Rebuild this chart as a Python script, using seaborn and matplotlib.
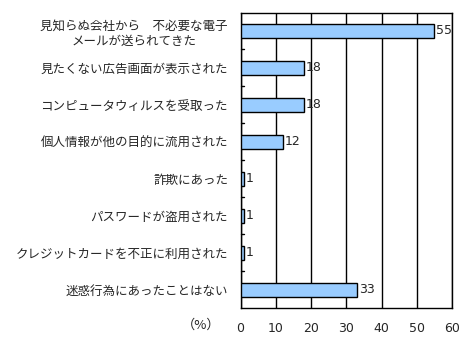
import matplotlib
matplotlib.use("Agg")
import matplotlib.pyplot as plt
import seaborn as sns
import pandas as pd

categories = [
    "見知らぬ会社から　不必要な電子\nメールが送られてきた",
    "見たくない広告画面が表示された",
    "コンピュータウィルスを受取った",
    "個人情報が他の目的に流用された",
    "詐欺にあった",
    "パスワードが盗用された",
    "クレジットカードを不正に利用された",
    "迷惑行為にあったことはない",
]
values = [55, 18, 18, 12, 1, 1, 1, 33]
x_ticks = [0, 10, 20, 30, 40, 50, 60]

sns.set_theme(style="white")
plt.rcParams["font.family"] = ["Noto Sans CJK JP", "DejaVu Sans"]

df = pd.DataFrame({"item": categories, "pct": values})

fig = plt.figure(figsize=(4.6, 3.4), dpi=100)
ax = fig.add_axes([240.5 / 460, 1 - 308.3 / 340, 211.5 / 460, 295.8 / 340])

sns.barplot(data=df, x="pct", y="item", orient="h", color="#99CCFF",
            saturation=1, edgecolor="black", linewidth=1.0, width=0.38, ax=ax, zorder=3)

ax.set_xlim(0, 60)
ax.set_ylim(len(categories) - 0.5, -0.5)
ax.set_xticks(x_ticks)
ax.set_xticklabels([str(t) for t in x_ticks], fontsize=9, family="DejaVu Sans")
ax.tick_params(axis="x", length=0, pad=10)
ax.grid(axis="x", color="black", linewidth=1.0, zorder=0)
ax.grid(axis="y", visible=False)

for spine in ax.spines.values():
    spine.set_color("black")
    spine.set_linewidth(1.0)

# category labels, plus short inward ticks on the category boundaries
ax.set_yticks(range(len(categories)))
ax.set_yticklabels(categories, fontsize=9)
for lab in ax.get_yticklabels():
    lab.set_multialignment("center")
ax.tick_params(axis="y", length=0, pad=9)
for b in range(1, len(categories)):
    ax.plot([0, 0.9], [b - 0.5, b - 0.5], color="black", linewidth=1.0,
            clip_on=False, zorder=4)

ax.set_xlabel("")
ax.set_ylabel("")

for i, v in enumerate(values):
    ax.text(v + 0.6, i, str(v), va="center", ha="left", fontsize=9,
            family="DejaVu Sans", zorder=5)

fig.text(201 / 460, 1 - 325 / 340, "（%）", ha="center", va="center", fontsize=9.5)

fig.savefig("out.png", dpi=100, facecolor="white")
